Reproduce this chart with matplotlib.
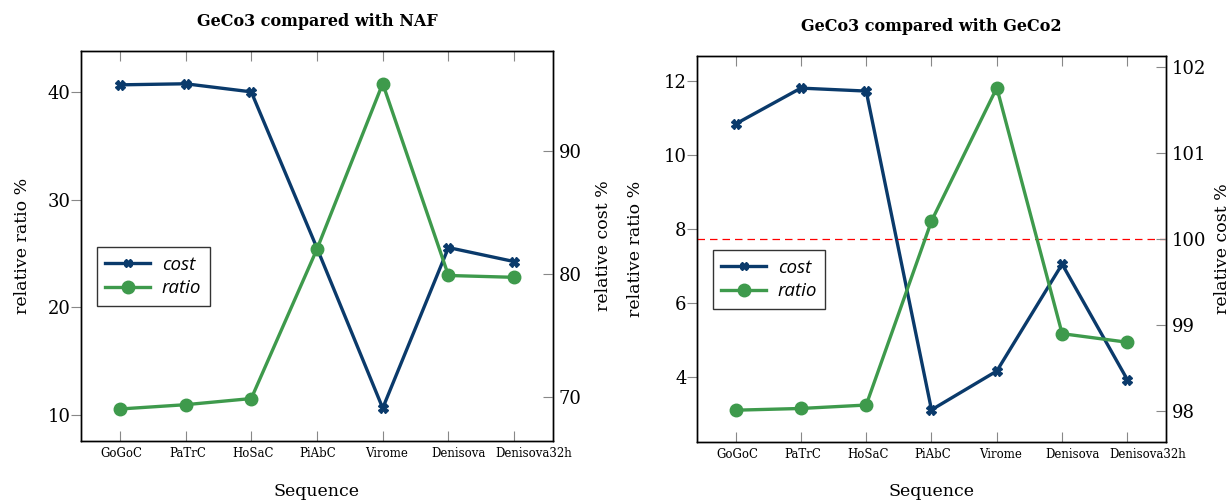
import matplotlib
matplotlib.use("Agg")
import matplotlib.pyplot as plt
import matplotlib.transforms as mtransforms
from matplotlib.lines import Line2D

# data
sequences = ["GoGoC", "PaTrC", "HoSaC", "PiAbC", "Virome", "Denisova", "Denisova32h"]

# GeCo3 vs NAF
naf_cost = [40.65, 40.75, 40.0, 25.5, 10.65, 25.55, 24.25]
naf_ratio = [69.0, 69.35, 69.85, 82.0, 95.45, 79.85, 79.7]

# GeCo3 vs GeCo2
geco2_cost = [10.84, 11.81, 11.73, 3.11, 4.16, 7.05, 3.92]
geco2_ratio = [98.01, 98.03, 98.07, 100.21, 101.76, 98.9, 98.8]

BLUE = "#0a3a6b"
GREEN = "#3e9a4c"

plt.rcParams["font.family"] = "DejaVu Serif"
plt.rcParams["axes.linewidth"] = 1.0

fig = plt.figure(figsize=(12.31, 5.04), dpi=100)

# the tick labels in the reference drift right a little (pixels)
label_shift_px = [2, 2, 2, 1, 4, 10, 20]


def make_panel(rect, title, cost, ratio, left_lim, left_ticks, right_lim, right_ticks,
               ref_line=None, right_pad=9, left_pad=12, x_pad=27):
    ax = fig.add_axes(rect)
    ax2 = ax.twinx()
    x = list(range(len(sequences)))

    ax.plot(x, cost, color=BLUE, lw=2.4, marker="X", ms=6.5, zorder=3)
    ax2.plot(x, ratio, color=GREEN, lw=2.4, marker="o", ms=9, zorder=3)
    if ref_line is not None:
        ax2.axhline(ref_line, color="red", lw=0.9, ls=(0, (6, 4)), zorder=1)

    ax.set_xlim(-0.59, len(sequences) - 1 + 0.59)
    ax.set_ylim(*left_lim)
    ax2.set_ylim(*right_lim)
    ax.set_yticks(left_ticks)
    ax2.set_yticks(right_ticks)
    ax.set_xticks(x)
    ax.set_xticklabels([])
    for i, (name, dx) in enumerate(zip(sequences, label_shift_px)):
        tr = ax.get_xaxis_transform() + mtransforms.ScaledTranslation(dx / 100, -6 / 100, fig.dpi_scale_trans)
        ax.text(i, 0, name, transform=tr, ha="center", va="top", fontsize=8.5)

    ax.tick_params(axis="x", direction="in", length=7, color="#888888", top=True)
    ax.tick_params(axis="y", direction="out", length=7, color="#888888", labelsize=13, pad=0.5)
    ax2.tick_params(axis="y", direction="in", length=7, color="#888888", labelsize=13, pad=4)

    ax.set_ylabel("relative ratio %", fontsize=12.5, labelpad=left_pad)
    ax2.set_ylabel("relative cost %", fontsize=12.5, labelpad=right_pad)
    ax.set_xlabel("Sequence", fontsize=12.5, labelpad=x_pad)
    ax.set_title(title, fontsize=11.5, fontweight="bold", pad=18)

    handles = [
        Line2D([], [], color=BLUE, lw=2.4, marker="X", ms=6),
        Line2D([], [], color=GREEN, lw=2.4, marker="o", ms=9),
    ]
    leg = ax2.legend(handles, ["cost", "ratio"], loc="upper left",
                     bbox_to_anchor=(0.034, 0.497), borderaxespad=0, frameon=True,
                     fancybox=False, edgecolor="black", handlelength=2.4,
                     borderpad=0.45, labelspacing=0.3, handletextpad=0.6,
                     prop={"family": "Open Sans", "style": "italic", "size": 13.5})
    leg.get_frame().set_linewidth(1.0)
    return ax, ax2


make_panel([0.0658, 0.125, 0.3834, 0.774], "GeCo3 compared with NAF",
           naf_cost, naf_ratio, (7.6, 43.8), [10, 20, 30, 40],
           (66.4, 98.1), [70, 80, 90], right_pad=10, left_pad=12, x_pad=27)

make_panel([0.5662, 0.123, 0.381, 0.766], "GeCo3 compared with GeCo2",
           geco2_cost, geco2_ratio, (2.24, 12.68), [4, 6, 8, 10, 12],
           (97.64, 102.13), [98, 99, 100, 101, 102], ref_line=100,
           right_pad=6, left_pad=14, x_pad=26)

fig.savefig("out.png", dpi=100)
